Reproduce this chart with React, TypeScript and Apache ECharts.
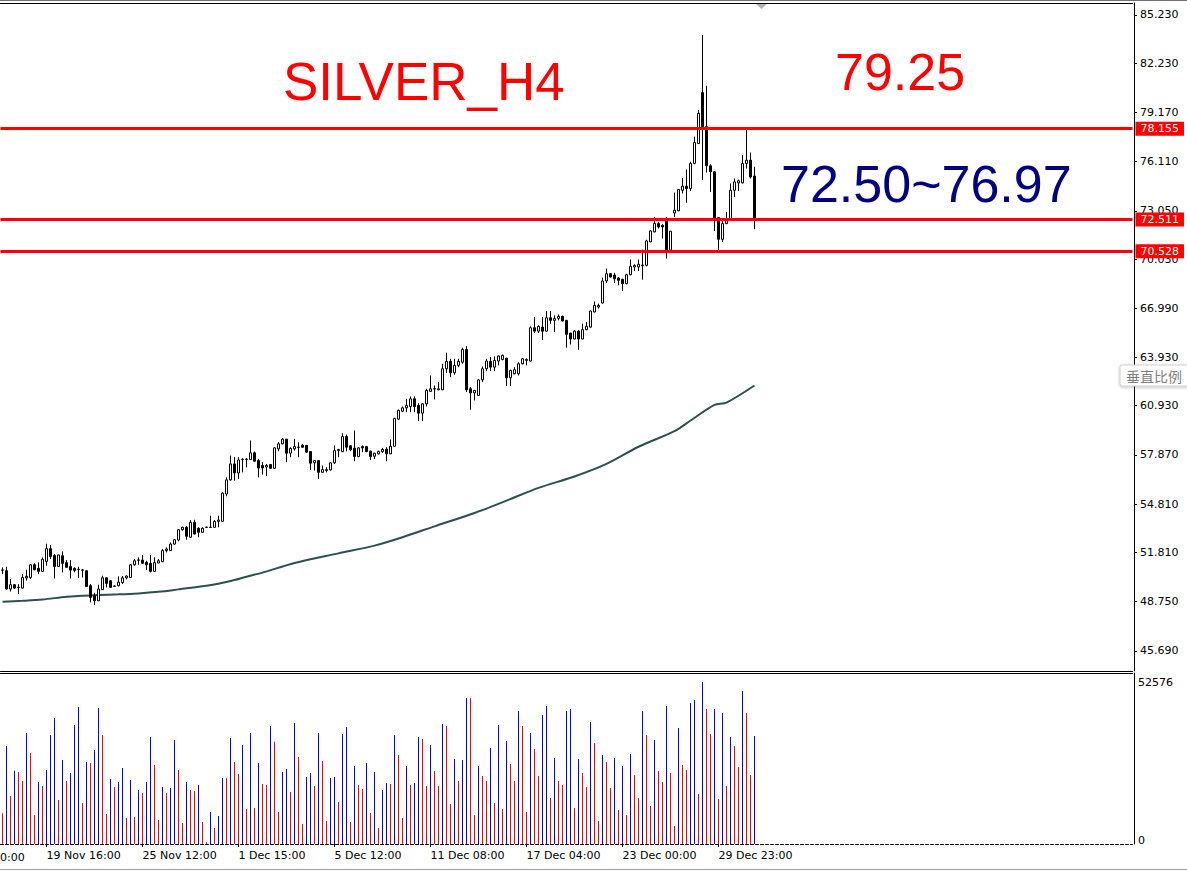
import { useEffect, useRef } from "react";
import * as echarts from "echarts";

// ---- OHLC of the 189 four-hour bars (oldest first) ----
const openPrices = [
  50.70, 50.67, 49.53, 49.80, 49.62, 49.59, 50.22, 50.25, 51.04, 50.82,
  50.63, 51.25, 52.04, 51.62, 50.94, 51.60, 51.17, 50.94, 50.82, 50.74,
  50.70, 50.67, 49.74, 49.11, 48.80, 49.49, 50.23, 50.05, 49.70, 49.74,
  49.94, 50.23, 50.25, 51.04, 51.32, 51.33, 51.19, 51.13, 50.63, 51.15,
  51.23, 51.92, 51.92, 52.33, 52.58, 53.22, 53.37, 52.75, 53.68, 53.31,
  53.06, 53.36, 53.36, 53.37, 53.74, 53.74, 55.44, 56.32, 57.31, 56.75,
  57.58, 57.59, 57.58, 58.00, 57.52, 57.21, 57.12, 57.27, 57.04, 58.25,
  58.56, 58.85, 57.98, 58.25, 58.34, 58.48, 58.46, 58.08, 57.38, 57.52,
  56.79, 56.90, 56.94, 57.38, 58.14, 58.08, 59.02, 58.44, 58.29, 57.77,
  58.39, 58.39, 58.10, 57.79, 57.94, 58.08, 58.23, 57.94, 58.41, 60.10,
  60.59, 60.80, 60.88, 61.36, 60.95, 60.47, 61.05, 61.82, 61.97, 61.92,
  61.92, 63.23, 63.69, 62.98, 63.44, 63.64, 64.43, 61.98, 61.73, 61.57,
  62.54, 63.23, 63.69, 63.33, 63.71, 63.81, 63.89, 62.67, 62.92, 62.92,
  63.54, 63.75, 63.71, 65.78, 65.57, 65.82, 65.57, 66.40, 66.24, 66.36,
  66.49, 66.24, 65.45, 65.08, 65.57, 65.08, 65.66, 65.82, 66.76, 67.07,
  67.32, 68.69, 69.14, 69.06, 68.87, 68.79, 68.52, 69.08, 69.56, 69.56,
  69.64, 69.66, 71.12, 71.74, 72.26, 72.15, 72.40, 70.60, 72.92, 73.05,
  74.33, 74.58, 74.44, 76.00, 77.24, 80.40, 78.28, 75.85, 75.48, 72.63,
  71.28, 72.26, 72.53, 74.33, 74.79, 74.79, 76.00, 76.20, 75.21,
];
const highPrices = [
  50.88, 50.92, 50.15, 49.84, 49.84, 50.46, 50.73, 51.06, 51.13, 51.19,
  51.50, 52.35, 52.27, 51.71, 51.67, 51.87, 51.33, 51.33, 50.88, 50.92,
  50.77, 50.71, 49.84, 49.30, 49.80, 50.36, 50.25, 50.09, 49.76, 50.32,
  50.34, 50.38, 51.09, 51.40, 51.50, 51.65, 51.29, 51.65, 51.50, 51.40,
  52.02, 52.12, 52.43, 52.64, 53.26, 53.41, 53.45, 53.82, 53.84, 53.37,
  53.37, 53.41, 54.09, 53.82, 54.09, 55.55, 56.48, 57.83, 57.73, 57.73,
  57.67, 57.67, 58.77, 58.08, 57.62, 57.42, 57.31, 57.31, 58.35, 58.66,
  58.91, 58.87, 58.35, 58.87, 58.66, 58.56, 58.50, 58.10, 57.54, 57.54,
  57.21, 57.11, 57.40, 58.46, 58.25, 59.22, 59.14, 58.46, 59.39, 58.35,
  58.46, 58.44, 58.14, 58.00, 58.14, 58.31, 58.35, 58.83, 60.18, 60.70,
  60.88, 61.36, 61.51, 61.51, 61.09, 61.09, 61.98, 62.81, 62.19, 62.40,
  63.54, 64.23, 63.85, 63.85, 63.85, 64.54, 64.64, 62.09, 61.92, 62.56,
  63.37, 63.85, 63.96, 64.00, 64.06, 64.12, 63.91, 63.17, 63.33, 63.64,
  63.91, 63.87, 65.87, 66.45, 65.93, 66.45, 66.82, 66.82, 66.55, 66.61,
  66.53, 66.26, 65.47, 65.62, 65.62, 66.03, 66.14, 66.84, 67.42, 67.28,
  68.90, 69.46, 69.19, 69.19, 68.94, 68.83, 69.14, 70.02, 69.73, 70.02,
  70.64, 71.25, 71.84, 72.67, 72.35, 72.22, 72.67, 71.80, 74.19, 74.40,
  75.10, 75.62, 76.10, 77.66, 79.32, 83.99, 80.83, 75.95, 75.52, 72.67,
  72.55, 72.99, 74.75, 75.06, 75.00, 76.51, 78.11, 76.68, 75.79,
];
const lowPrices = [
  50.46, 49.50, 49.38, 49.53, 49.22, 49.57, 50.05, 50.15, 50.71, 50.46,
  50.61, 50.98, 51.40, 50.19, 50.92, 50.57, 50.86, 50.19, 50.57, 50.21,
  50.25, 49.67, 48.70, 48.53, 48.78, 49.47, 49.63, 49.61, 49.66, 49.69,
  49.84, 50.13, 50.23, 50.98, 51.04, 51.09, 50.71, 50.57, 50.61, 51.13,
  51.21, 51.81, 51.90, 52.29, 52.50, 53.16, 52.60, 52.70, 52.93, 52.75,
  53.02, 53.33, 53.33, 53.35, 53.37, 53.72, 55.30, 56.27, 56.27, 56.38,
  56.79, 57.10, 57.56, 57.46, 56.48, 56.65, 56.55, 57.00, 57.02, 58.10,
  58.54, 57.42, 57.73, 58.14, 57.73, 58.31, 58.02, 56.94, 56.90, 56.38,
  56.77, 56.79, 56.90, 57.31, 57.73, 58.04, 58.10, 58.10, 57.48, 57.73,
  58.04, 58.04, 57.56, 57.62, 57.90, 58.00, 57.48, 57.92, 58.39, 60.05,
  60.53, 60.53, 60.53, 60.53, 59.97, 59.97, 60.88, 61.78, 61.32, 61.90,
  61.90, 62.96, 62.71, 62.86, 63.33, 63.54, 61.78, 60.68, 61.26, 61.55,
  62.40, 63.08, 63.08, 63.08, 63.44, 63.75, 62.15, 62.15, 62.88, 62.81,
  63.50, 63.44, 63.69, 65.45, 65.45, 65.03, 65.55, 66.03, 65.51, 66.24,
  66.18, 64.54, 64.74, 65.06, 64.41, 65.06, 65.62, 65.78, 66.74, 66.97,
  67.28, 68.56, 68.90, 68.56, 68.42, 68.07, 68.48, 69.04, 69.31, 69.31,
  68.77, 69.60, 71.10, 71.72, 71.95, 71.33, 70.08, 70.58, 72.67, 73.03,
  74.13, 73.55, 74.29, 75.95, 77.20, 74.96, 75.43, 74.23, 71.80, 70.60,
  71.12, 72.22, 72.47, 73.92, 74.29, 74.75, 75.68, 75.06, 71.91,
];
const closePrices = [
  50.72, 49.53, 49.80, 49.59, 49.65, 50.25, 50.32, 51.04, 50.73, 50.63,
  51.38, 52.04, 51.56, 50.94, 51.65, 51.13, 50.88, 50.71, 50.69, 50.76,
  50.72, 49.69, 49.01, 48.80, 49.53, 50.23, 49.88, 49.63, 49.72, 49.96,
  50.23, 50.34, 51.04, 51.29, 51.34, 51.13, 51.04, 50.63, 51.17, 51.29,
  51.92, 52.02, 52.33, 52.60, 53.22, 53.37, 52.81, 53.68, 52.95, 53.06,
  53.31, 53.38, 53.38, 53.74, 53.82, 55.49, 56.32, 57.31, 56.75, 57.56,
  57.60, 57.61, 58.00, 57.48, 57.06, 57.06, 57.22, 57.04, 58.31, 58.56,
  58.85, 57.98, 58.27, 58.39, 58.36, 58.35, 58.04, 57.36, 57.52, 56.79,
  56.96, 56.96, 57.38, 58.14, 58.21, 59.02, 58.35, 58.19, 57.77, 58.31,
  58.31, 58.08, 57.77, 57.98, 58.08, 58.21, 57.94, 58.41, 60.14, 60.64,
  60.80, 60.95, 61.36, 60.88, 60.47, 61.05, 61.88, 61.98, 61.99, 61.98,
  63.23, 63.69, 62.98, 63.44, 63.69, 64.43, 61.92, 61.73, 61.88, 62.54,
  63.23, 63.71, 63.33, 63.75, 64.02, 64.06, 62.67, 63.13, 63.17, 63.54,
  63.85, 63.81, 65.78, 65.57, 65.87, 65.57, 66.40, 66.24, 66.36, 66.49,
  66.20, 65.37, 65.08, 65.57, 65.08, 65.66, 65.87, 66.82, 67.17, 67.17,
  68.69, 69.14, 68.94, 68.83, 68.73, 68.52, 69.08, 69.60, 69.66, 69.73,
  69.68, 71.18, 71.80, 72.26, 72.05, 72.05, 70.60, 71.78, 73.09, 74.38,
  74.58, 74.44, 76.00, 77.30, 79.11, 78.28, 75.85, 75.48, 72.55, 71.28,
  72.26, 72.53, 74.33, 74.85, 74.92, 76.00, 76.20, 75.16, 72.53,
];

// ---- tick volumes of the same bars ----
const volumes = [
  9954, 31811, 15581, 23804, 23371, 20450, 36031, 29539, 9413, 20125,
  18827, 24020, 35381, 40900, 14282, 27266, 20450, 23047, 38627, 44470,
  13309, 26617, 26293, 30512, 44146, 35381, 9738, 21099, 18502, 20125,
  24670, 8440, 20774, 8764, 17528, 16555, 20125, 34732, 25643, 7790,
  18502, 16555, 18178, 33758, 24020, 6817, 20125, 17528, 17204, 19151,
  7141, 649, 10387, 5194, 9089, 21424, 21300, 34408, 26617, 22722,
  32135, 11361, 36031, 11686, 26293, 19476, 19151, 38303, 33217, 10387,
  23371, 24345, 16879, 39277, 28240, 6492, 21748, 23047, 18827, 36031,
  26942, 7466, 21424, 21748, 13633, 35706, 37978, 7141, 25319, 19151,
  17853, 26293, 10063, 23371, 5194, 17528, 19801, 19476, 35381, 28889,
  8440, 25319, 19151, 19801, 34732, 34083, 18827, 32135, 23696, 18827,
  38952, 38303, 12984, 27591, 20450, 27266, 47392, 47300, 9413, 25319,
  22073, 20450, 31162, 13309, 38627, 11361, 33434, 25968, 20450, 43172,
  38303, 10387, 36031, 30837, 22073, 41873, 44795, 14932, 27916, 20450,
  19151, 43172, 43821, 11686, 27591, 23047, 18502, 39601, 32785, 7466,
  28889, 26617, 18178, 27916, 11036, 25319, 9413, 29214, 22397, 14932,
  43172, 35381, 12335, 33758, 23696, 20125, 44795, 23047, 5843, 37654,
  25643, 24020, 45769, 46742, 16230, 52576, 43821, 35706, 43821, 14607,
  42523, 18827, 34732, 31811, 24994, 49664, 42523, 22397, 35057,
];

// ---- moving average read at these bar numbers (1-based) ----
const maBars = [1, 6, 11, 17, 21, 25, 30, 35, 40, 45, 50, 55, 59, 62, 66, 74, 85, 94, 101, 109, 119, 127, 135, 144, 152, 160, 169, 173, 179, 182, 189];
const maValues = [48.74, 48.80, 48.88, 49.05, 49.11, 49.16, 49.20, 49.26, 49.36, 49.51, 49.67, 49.86, 50.09, 50.30, 50.55, 51.15, 51.75, 52.23, 52.75, 53.43, 54.26, 55.03, 55.82, 56.53, 57.31, 58.38, 59.35, 60.01, 60.99, 61.13, 62.19];

// ---- horizontal levels and axis labels ----
const levelLines = [78.155, 72.511, 70.528];
const priceTicks = [85.23, 82.23, 79.17, 76.11, 73.05, 70.03, 66.99, 63.93, 60.93, 57.87, 54.81, 51.81, 48.75, 45.69];
const volumeTicks = [0, 52576];
const timeLabels = ["19 Nov 16:00", "25 Nov 12:00", "1 Dec 15:00", "5 Dec 12:00", "11 Dec 08:00", "17 Dec 04:00", "23 Dec 00:00", "29 Dec 23:00"];
const timeLabelBars = [12, 36, 60, 84, 108, 132, 156, 180];
const hiddenLeftLabel = "13 Nov 20:00";

const SLOT_COUNT = 283;
const PRICE_MIN = 44.434;
const PRICE_MAX = 85.976;
const VOL_MAX = 55497;
const AXIS_FONT = "DejaVu Sans";

export default function App() {
  const ref = useRef<HTMLDivElement>(null);

  useEffect(() => {
    if (!ref.current) return;
    const chart = echarts.init(ref.current, null, { renderer: "svg" });

    const cats = Array.from({ length: SLOT_COUNT }, (_, i) => String(i));
    const candleData = openPrices.map((o, i) => [o, closePrices[i], lowPrices[i], highPrices[i]]);
    const maData: (number | null)[] = openPrices.map(() => null);
    maBars.forEach((b, k) => {
      maData[b - 1] = maValues[k];
    });
    const volData = volumes.map((v, i) => ({
      value: v,
      itemStyle: { color: i > 0 && v > volumes[i - 1] ? "#0000ff" : "#ff0000" },
    }));
    const labelAt = new Map<number, string>(timeLabelBars.map((b, k) => [b - 1, timeLabels[k]]));

    const solidLine = { show: true, onZero: false, lineStyle: { color: "#000000", width: 1 } };

    const option: any = {
      animation: false,
      backgroundColor: "#ffffff",
      grid: [
        { left: 0.5, right: 54.5, top: 3, height: 668, containLabel: false, outerBoundsMode: "none" },
        { left: 0.5, right: 54.5, top: 673, height: 171, containLabel: false, outerBoundsMode: "none" },
      ],
      xAxis: [
        {
          type: "category", gridIndex: 0, data: cats, position: "bottom",
          axisLine: solidLine, axisTick: { show: false }, axisLabel: { show: false }, splitLine: { show: false },
        },
        {
          type: "category", gridIndex: 0, data: cats, position: "top",
          axisLine: solidLine, axisTick: { show: false }, axisLabel: { show: false }, splitLine: { show: false },
        },
        {
          type: "category", gridIndex: 1, data: cats, position: "bottom",
          axisLine: { show: true, onZero: false, lineStyle: { color: "#000000", width: 1, type: [3, 2] } },
          axisTick: {
            show: true, alignWithLabel: true, length: 3,
            interval: (i: number) => labelAt.has(i),
            lineStyle: { color: "#000000" },
          },
          axisLabel: {
            show: true,
            interval: (i: number) => labelAt.has(i),
            formatter: (_v: string, i: number) => labelAt.get(i) ?? "",
            align: "left", margin: 6, color: "#000000",
            fontFamily: AXIS_FONT, fontSize: 11, hideOverlap: false,
          },
          splitLine: { show: false },
        },
        {
          type: "category", gridIndex: 1, data: cats, position: "top",
          axisLine: solidLine, axisTick: { show: false }, axisLabel: { show: false }, splitLine: { show: false },
        },
      ],
      yAxis: [
        {
          type: "value", gridIndex: 0, position: "right", offset: 1.5, min: PRICE_MIN, max: PRICE_MAX,
          axisLine: { show: true, lineStyle: { color: "#000000", width: 1 } },
          axisTick: { show: true, length: 3, customValues: priceTicks, lineStyle: { color: "#000000" } },
          axisLabel: {
            show: true, customValues: priceTicks, formatter: (v: number) => v.toFixed(3),
            margin: 6, color: "#000000", fontFamily: AXIS_FONT, fontSize: 11,
          },
          splitLine: { show: false },
        },
        {
          type: "value", gridIndex: 1, position: "right", offset: 1.5, min: 0, max: VOL_MAX,
          axisLine: { show: true, lineStyle: { color: "#000000", width: 1 } },
          axisTick: { show: false },
          axisLabel: {
            show: true, customValues: volumeTicks,
            formatter: (v: number) => (v === 0 ? "{z|0}" : String(v)),
            margin: 4, color: "#000000", fontFamily: AXIS_FONT, fontSize: 11,
            rich: { z: { padding: [0, 0, 8, 0], color: "#000000", fontFamily: AXIS_FONT, fontSize: 11 } },
          },
          splitLine: { show: false },
        },
      ],
      series: [
        {
          type: "line", xAxisIndex: 0, yAxisIndex: 0, data: maData, connectNulls: true,
          showSymbol: false, symbol: "none", z: 1, silent: true, smooth: 0.3,
          lineStyle: { color: "#2f4f4f", width: 2 },
        },
        {
          type: "candlestick", xAxisIndex: 0, yAxisIndex: 0, data: candleData, barWidth: 2, large: false,
          z: 3, silent: true,
          itemStyle: { color: "#ffffff", color0: "#000000", borderColor: "#000000", borderColor0: "#000000", borderWidth: 1 },
          markLine: {
            silent: true, symbol: ["none", "none"], animation: false,
            lineStyle: { color: "#ff0000", width: 3, type: "solid" },
            emphasis: { disabled: true },
            label: {
              show: true, position: "end", distance: 3,
              formatter: (p: any) => levelLines[p.dataIndex].toFixed(3),
              color: "#ffffff", backgroundColor: "#ff0000", padding: [2, 5, 1, 5],
              fontFamily: AXIS_FONT, fontSize: 11,
            },
            data: levelLines.map((v) => ({ yAxis: v })),
          },
        },
        {
          type: "bar", xAxisIndex: 2, yAxisIndex: 1, data: volData, barWidth: 1, silent: true,
        },
      ],
      graphic: [
        { type: "rect", z: 100, silent: true, shape: { x: 0, y: 0, width: 1187, height: 1 }, style: { fill: "#6e6e6e" } },
        { type: "rect", z: 100, silent: true, shape: { x: 0, y: 869, width: 1187, height: 1 }, style: { fill: "#a0a0a0" } },
        { type: "polygon", z: 100, silent: true, shape: { points: [[756, 4], [767, 4], [761.5, 9]] }, style: { fill: "#b4b4b4" } },
        {
          type: "text", z: 100, silent: true, x: -49.5, y: 857,
          style: { text: hiddenLeftLabel, fill: "#000000", fontFamily: AXIS_FONT, fontSize: 11, verticalAlign: "middle", align: "left" },
        },
        {
          type: "text", z: 100, silent: true, x: 283, y: 81,
          style: { text: "SILVER_H4", fill: "#ff0000", fontFamily: "Liberation Sans", fontSize: 53, verticalAlign: "middle", align: "left" },
        },
        {
          type: "text", z: 100, silent: true, x: 835, y: 72,
          style: { text: "79.25", fill: "#ff0000", fontFamily: "Liberation Sans", fontSize: 52, verticalAlign: "middle", align: "left" },
        },
        {
          type: "text", z: 100, silent: true, x: 781, y: 184,
          style: { text: "72.50~76.97", fill: "#000080", fontFamily: "Liberation Sans", fontSize: 52, verticalAlign: "middle", align: "left" },
        },
        {
          type: "group", z: 100, silent: true,
          children: [
            {
              type: "rect", z: 100, shape: { x: 1120, y: 365, width: 72, height: 21, r: 2 },
              style: { fill: "#ffffff", stroke: "#d0d0d0", lineWidth: 1, shadowBlur: 3, shadowColor: "rgba(0,0,0,0.25)", shadowOffsetY: 1 },
            },
            {
              type: "text", z: 101, x: 1126, y: 375.5,
              style: { text: "垂直比例", fill: "#7f7f7f", fontFamily: "Noto Sans CJK SC", fontSize: 14, verticalAlign: "middle", align: "left" },
            },
          ],
        },
      ],
    };

    chart.setOption(option);
    return () => chart.dispose();
  }, []);

  return (
    <div
      ref={ref}
      style={{ position: "absolute", left: 0, top: 0, width: 1187, height: 872, background: "#ffffff" }}
    />
  );
}
